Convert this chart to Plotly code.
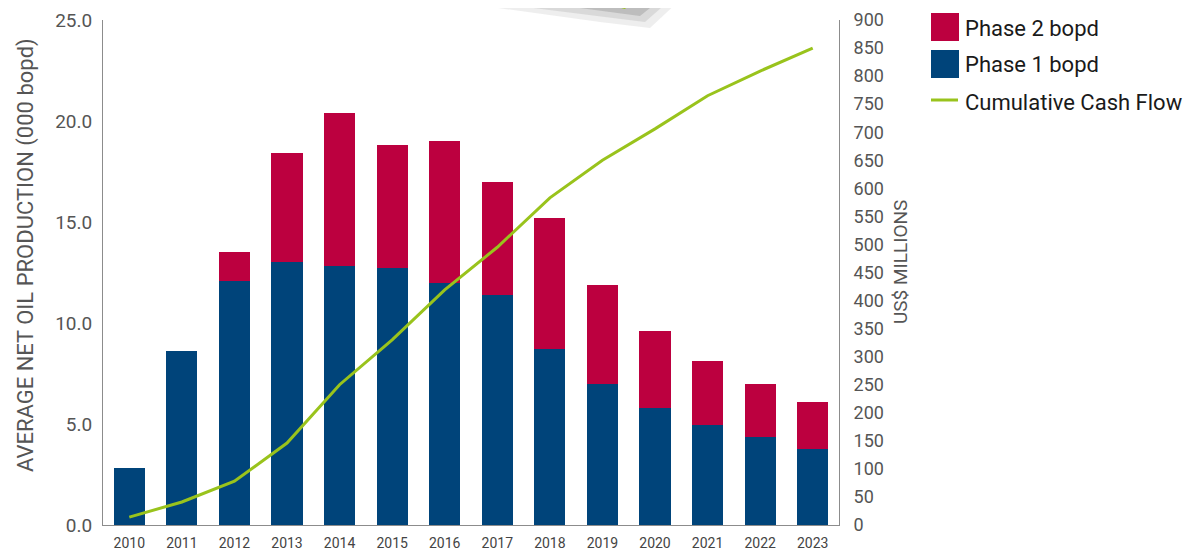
import plotly.graph_objects as go

years = ["2010", "2011", "2012", "2013", "2014", "2015", "2016", "2017",
         "2018", "2019", "2020", "2021", "2022", "2023"]
phase1 = [2.8, 8.6, 12.1, 13.0, 12.8, 12.7, 12.0, 11.4, 8.7, 7.0, 5.8, 4.95, 4.35, 3.75]
phase_total = [2.8, 8.6, 13.5, 18.4, 20.4, 18.8, 19.0, 17.0, 15.2, 11.9, 9.6, 8.1, 7.0, 6.1]
phase2 = [round(t - p, 2) for t, p in zip(phase_total, phase1)]
cashflow = [14, 41, 78, 146, 250, 330, 419, 495, 583, 650, 706, 765, 809, 850]

RED = "#bc003f"
BLUE = "#00447a"
GREEN = "#99c31c"
FONT = "Roboto"
GREY = "#555555"

W, H = 1191, 552
OFF = 8  # page body margin
# plot area in screen pixels
SL, SR, ST, SB = 103, 839, 20, 525
L, R, T, B = SL - OFF, SR - OFF, ST - OFF, SB - OFF


def px(x):
    return (x - OFF - L) / (R - L)


def py(y):
    return (B - (y - OFF)) / (B - T)


fig = go.Figure()
fig.add_bar(x=years, y=phase1, name="Phase 1 bopd", marker_color=BLUE,
            width=0.59, marker_line_width=0)
fig.add_bar(x=years, y=phase2, name="Phase 2 bopd", marker_color=RED,
            width=0.59, marker_line_width=0)
fig.add_scatter(x=years, y=cashflow, yaxis="y2", mode="lines",
                name="Cumulative Cash Flow", line=dict(color=GREEN, width=3))

shapes = []
# decorative shadow + green arrow piece at top
for (pts, col, op) in [
    ([(440, 0), (680, 0), (650, 28), (600, 22)], "#e2e2e2", 0.6),
    ([(470, 0), (670, 0), (645, 22), (605, 17)], "#cccccc", 0.6),
    ([(520, 0), (660, 0), (640, 16), (610, 12)], "#b0b0b0", 0.7),
    ([(590, 0), (633, 0), (625, 9)], GREEN, 1.0),
]:
    path = "M " + " L ".join(f"{px(a):.5f},{py(b):.5f}" for a, b in pts) + " Z"
    shapes.append(dict(type="path", xref="paper", yref="paper", path=path,
                       fillcolor=col, opacity=op, line=dict(width=0), layer="above"))

# custom legend
shapes.append(dict(type="rect", xref="paper", yref="paper",
                   x0=px(931), x1=px(959), y0=py(41), y1=py(13),
                   fillcolor=RED, line=dict(width=0)))
shapes.append(dict(type="rect", xref="paper", yref="paper",
                   x0=px(931), x1=px(959), y0=py(78), y1=py(50),
                   fillcolor=BLUE, line=dict(width=0)))
shapes.append(dict(type="line", xref="paper", yref="paper",
                   x0=px(931), x1=px(958), y0=py(100), y1=py(100),
                   line=dict(color=GREEN, width=3)))

annotations = []
for text, yy in [("Phase 2 bopd", 28), ("Phase 1 bopd", 65), ("Cumulative Cash Flow", 102)]:
    annotations.append(dict(text=text, xref="paper", yref="paper", x=px(963), y=py(yy),
                            xanchor="left", yanchor="middle", showarrow=False,
                            font=dict(family=FONT, size=22, color="#1a1a1a")))

# axis titles
annotations.append(dict(text="AVERAGE NET OIL PRODUCTION (000 bopd)", xref="paper",
                        yref="paper", x=px(26), y=py(255), textangle=-90,
                        xanchor="center", yanchor="middle", showarrow=False,
                        font=dict(family=FONT, size=22, color=GREY)))
annotations.append(dict(text="US$ MILLIONS", xref="paper",
                        yref="paper", x=px(900), y=py(262), textangle=-90,
                        xanchor="center", yanchor="middle", showarrow=False,
                        font=dict(family=FONT, size=19, color=GREY)))

fig.update_layout(
    width=W, height=H,
    margin=dict(l=L, r=W - R, t=T, b=H - B, autoexpand=False),
    paper_bgcolor="white", plot_bgcolor="white",
    barmode="stack", bargap=0.41,
    showlegend=False,
    font=dict(family=FONT, color=GREY),
    xaxis=dict(showline=True, linecolor="#8c8c8c", linewidth=1, mirror=False,
               showgrid=False, ticks="", tickfont=dict(size=14, color="#444444"),
               ticklabelstandoff=5, automargin=False,
               range=[-0.5, 13.5], fixedrange=True),
    yaxis=dict(range=[0, 25], dtick=5, tickformat=".1f", showline=True,
               linecolor="#8c8c8c", linewidth=1, showgrid=False, ticks="",
               zeroline=False, automargin=False,
               tickfont=dict(size=19, color=GREY), ticklabelstandoff=6),
    yaxis2=dict(range=[0, 900], dtick=50, overlaying="y", side="right",
                showline=True, linecolor="#8c8c8c", linewidth=1, showgrid=False,
                ticks="", zeroline=False, automargin=False,
                tickfont=dict(size=18, color=GREY), ticklabelstandoff=10),
    shapes=shapes,
    annotations=annotations,
)

fig.write_html("out.html")
